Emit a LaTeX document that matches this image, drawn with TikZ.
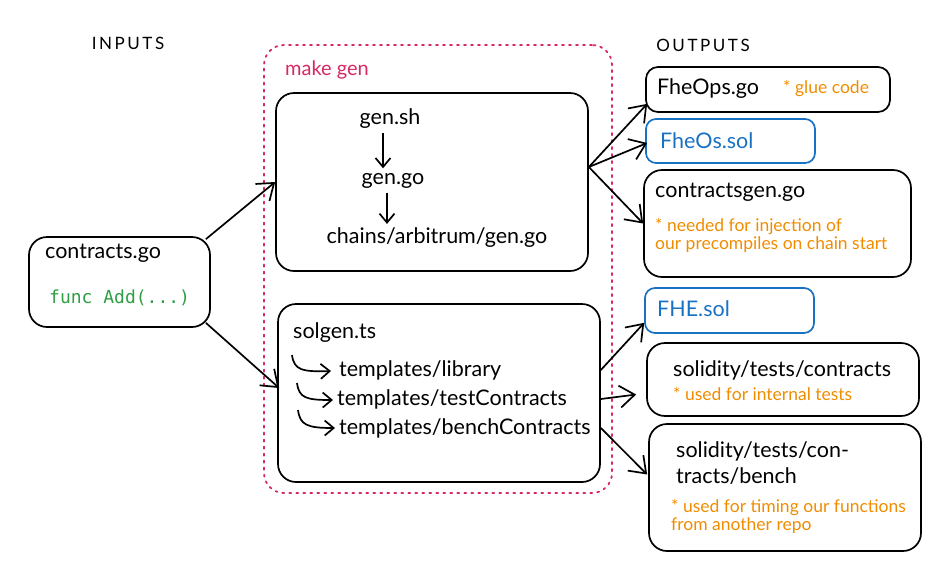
\documentclass[tikz,border=0pt]{standalone}
\usepackage{fontspec}
\setmainfont{Lato}
\setmonofont{DejaVu Sans Mono}
\usetikzlibrary{arrows.meta,calc}
\definecolor{mg}{RGB}{214,40,100}
\definecolor{bl}{RGB}{25,113,194}
\definecolor{og}{RGB}{240,140,0}
\definecolor{gr}{RGB}{47,158,68}
\tikzset{
  box/.style={draw, line width=1.7pt, rounded corners=18pt, inner sep=0pt},
  bbox/.style={draw=bl, line width=1.7pt, rounded corners=10pt, inner sep=0pt},
  mainf/.style={font=\fontsize{21.5}{25}\selectfont},
  txt/.style={inner sep=0pt, anchor=west, mainf},
  ntxt/.style={inner sep=0pt, anchor=west, font=\fontsize{17.5}{21}\selectfont, text=og},
  arr/.style={line width=1.7pt, -{Straight Barb[length=15pt,width=22pt,line width=1.7pt]}},
  hook/.style={line width=1.7pt, -{Straight Barb[length=9pt,width=15pt,line width=1.7pt]}},
  ttl/.style={inner sep=0pt, font=\addfontfeature{LetterSpace=15}\fontsize{17}{20}\selectfont},
}
\begin{document}
\begin{tikzpicture}[x=1pt,y=-1pt]
\useasboundingbox (0,0) rectangle (949,571);
% titles
\node[ttl] (inputs) at (128,43) {INPUTS};
\node[ttl] (outputs) at (703,45) {OUTPUTS};
% make gen group
\node[draw=mg, line width=1.8pt, dash pattern=on 2pt off 5pt, line cap=round, rounded corners=20pt, minimum width=348pt, minimum height=448pt] (mk) at (438,269) {};
\node[inner sep=0pt, anchor=west, text=mg, font=\fontsize{20}{24}\selectfont] (mklbl) at (285,70) {make gen};
% gen box
\node[box, minimum width=312pt, minimum height=178pt] (gen) at (432,182) {};
\node[inner sep=0pt, mainf] (gsh) at (390,119) {gen.sh};
\node[inner sep=0pt, mainf] (ggo) at (393,181) {gen.go};
\node[inner sep=0pt, mainf] (garb) at (437,238) {chains/arbitrum/gen.go};
\draw[hook] ($(gsh.south)+(-7,4)$) -- ($(ggo.north)+(-10,-5)$);
\draw[hook] ($(ggo.south)+(-6,4)$) -- ($(garb.north)+(-50,-4)$);
% solgen box
\node[box, minimum width=322pt, minimum height=178pt] (sol) at (439,393) {};
\node[txt] (sts) at (293,333) {solgen.ts};
\node[txt] (t1) at (339,370) {templates/library};
\node[txt] (t2) at (337,399) {templates/testContracts};
\node[txt] (t3) at (339,428) {templates/benchContracts};
\coordinate (h1s) at (292,355);
\coordinate (h2s) at (297,383);
\coordinate (h3s) at (298,410);
\draw[hook] (h1s) .. controls (294,370) and (302,372) .. ($(t1.west)+(-8,1)$);
\draw[hook] (h2s) .. controls (299,398) and (306,400) .. ($(t2.west)+(-4,1)$);
\draw[hook] (h3s) .. controls (300,425) and (307,428) .. ($(t3.west)+(-4,0)$);
% contracts.go
\node[box, minimum width=181pt, minimum height=90pt] (cgo) at (119.5,282) {};
\node[txt] (cgot) at (45,253) {contracts.go};
\node[inner sep=0pt, anchor=west, text=gr, font=\ttfamily\fontsize{18}{21}\selectfont] (fadd) at (49,298) {func Add(...)};
% outputs
\node[box, rounded corners=12pt, minimum width=244pt, minimum height=45pt] (fops) at (768,89.5) {};
\node[txt] (fopst) at (657,89) {FheOps.go};
\node[ntxt] (glue) at (783,89) {* glue code};
\node[bbox, minimum width=169pt, minimum height=44pt] (fos) at (730.5,141) {};
\node[txt, text=bl] (fost) at (660,141) {FheOs.sol};
\node[box, minimum width=267pt, minimum height=107pt] (cgen) at (777.5,223.5) {};
\node[txt] (cgent) at (655,192) {contractsgen.go};
\node[ntxt] (cg1) at (655,226) {* needed for injection of};
\node[ntxt] (cg2) at (655,245) {our precompiles on chain start};
\node[bbox, minimum width=169pt, minimum height=45pt] (fhe) at (729.5,310.5) {};
\node[txt, text=bl] (fhet) at (657,309) {FHE.sol};
\node[box, minimum width=272pt, minimum height=73pt] (stc) at (783,379.5) {};
\node[txt] (stct) at (673,370) {solidity/tests/contracts};
\node[ntxt] (stcn) at (673,394) {* used for internal tests};
\node[box, minimum width=272pt, minimum height=127pt] (bench) at (785,487.5) {};
\node[txt] (b1t) at (676,451) {solidity/tests/con-};
\node[txt] (b2t) at (676,476) {tracts/bench};
\node[ntxt] (bn1) at (671,507) {* used for timing our functions};
\node[ntxt] (bn2) at (671,526) {from another repo};
% connectors
\draw[arr] ($(cgo.north east)+(-5,3)$) -- (gen.west);
\draw[arr] ($(cgo.south east)+(-5,-5)$) -- ($(sol.west)+(2,-5)$);
\coordinate (gout) at ($(gen.east)+(0,-15)$);
\draw[arr] (gout) -- ($(fops.south west)+(2,-9)$);
\draw[arr] (gout) -- ($(fos.west)+(2,2)$);
\draw[arr] (gout) -- (cgen.west);
\draw[arr] ($(sol.east)+(0,-23)$) -- ($(fhe.south west)+(0,-11)$);
\draw[arr] ($(sol.east)+(0,6)$) -- ($(stc.west)+(-10,15)$);
\draw[arr] ($(sol.east)+(0,35)$) -- ($(bench.west)+(-1,-13)$);
\end{tikzpicture}
\end{document}
